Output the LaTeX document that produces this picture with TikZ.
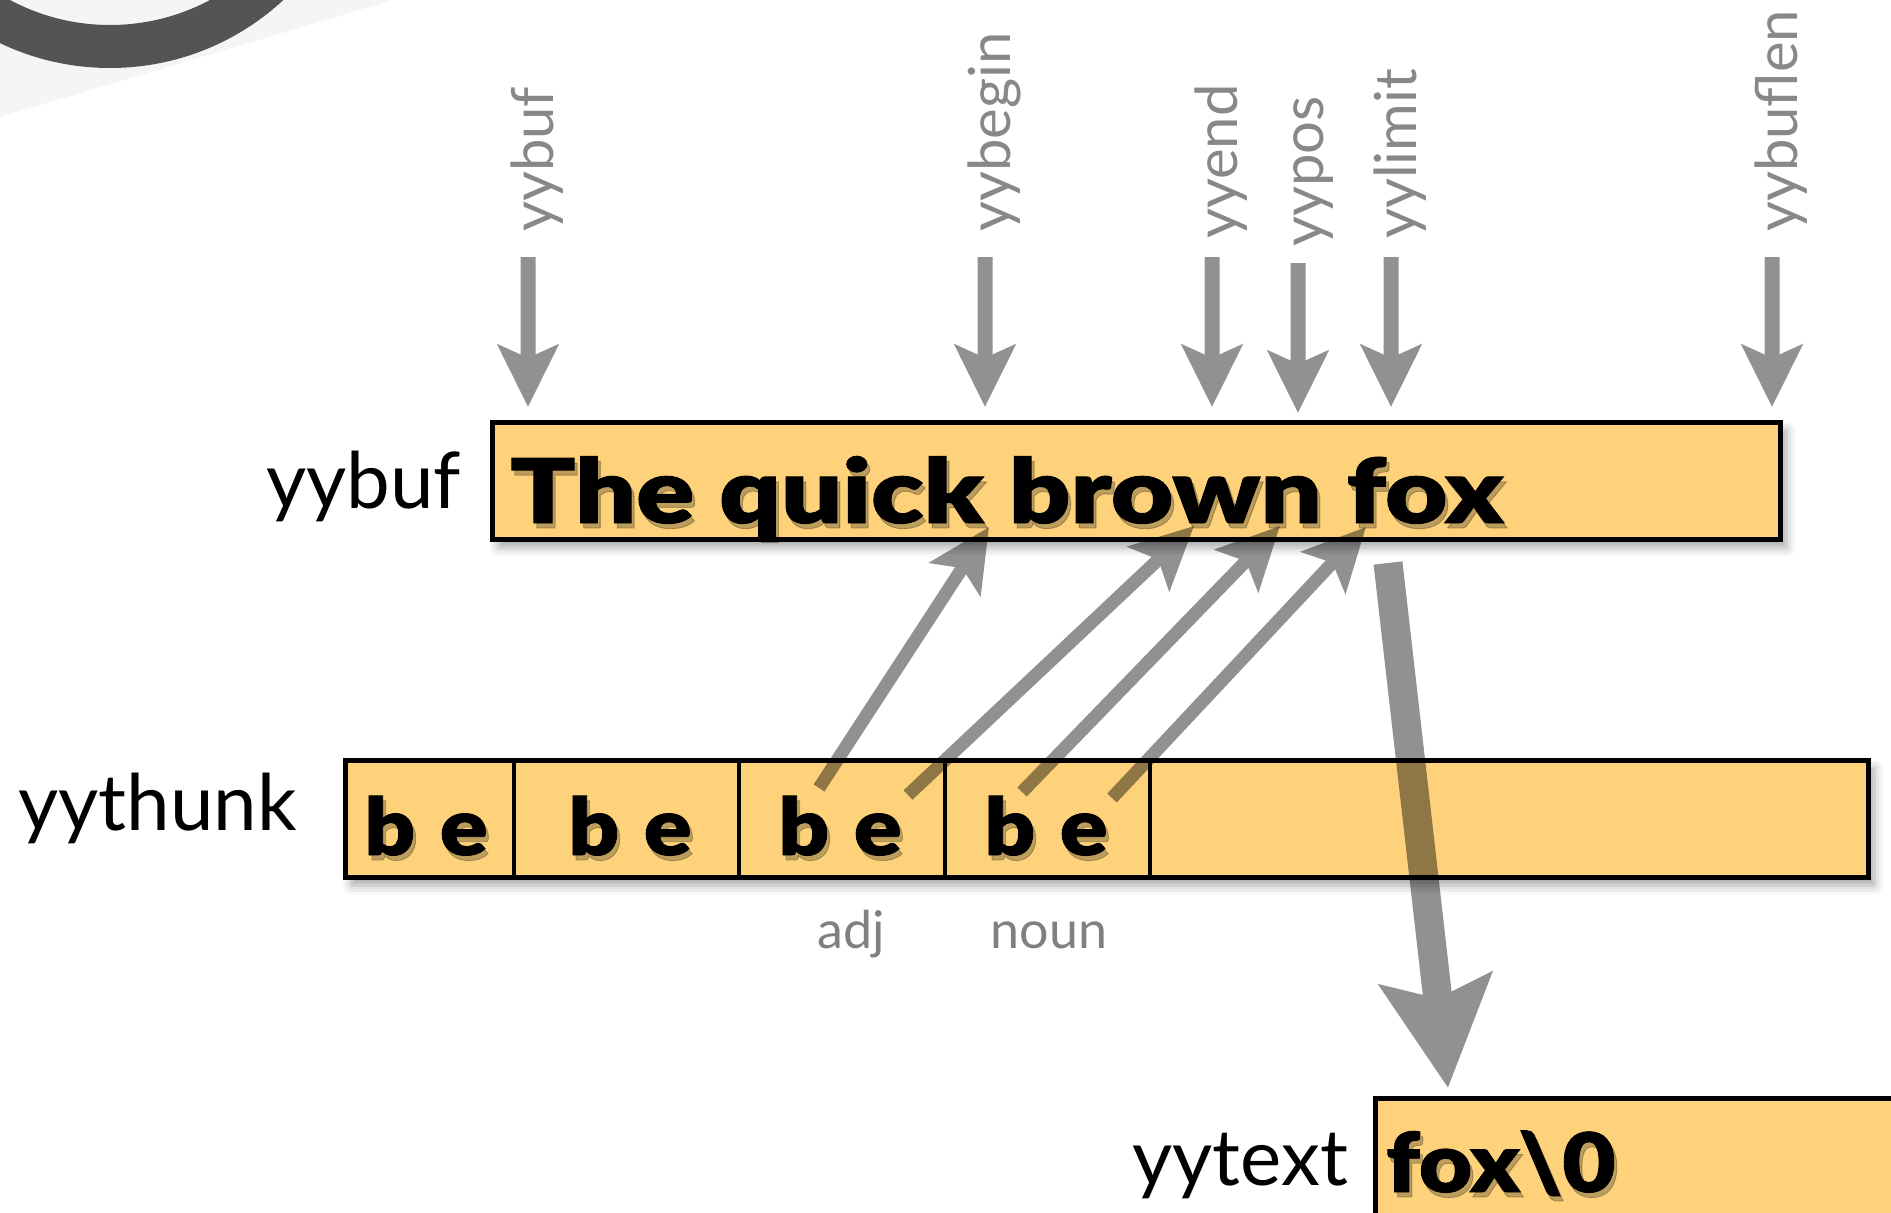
\documentclass[tikz,border=0pt]{standalone}
\usepackage{fontspec}
\usepackage{graphicx}
\usetikzlibrary{arrows.meta,shadows.blur}
\setmainfont{Lato}
\IfFontExistsTF{Lato Black}
  {\newfontfamily\heavyfont{Lato Black}[FakeBold=1]}
  {\newfontfamily\heavyfont{Lato}[FakeBold=3]}

\definecolor{boxfill}{RGB}{253,210,122}
\definecolor{labelgray}{RGB}{136,136,136}
\definecolor{notegray}{RGB}{128,128,128}
\definecolor{ringgray}{RGB}{84,84,84}
\definecolor{cornerwash}{RGB}{245,245,243}

% heavy display text, widened
\newcommand\wide[2][1.12]{\scalebox{#1}[1]{#2}}
% heavy text with a soft drop shade: name, x, y, anchor, content
\newcommand\heavyat[5]{%
  \node[heavyshade, anchor=#4] (#1shade) at (#2+3, #3+5) {#5};
  \node[heavytext, anchor=#4] (#1) at (#2, #3) {#5};}

\tikzset{
  membox/.style={draw=black, line width=5pt, fill=boxfill, inner sep=0pt,
    blur shadow={shadow xshift=6pt, shadow yshift=-8pt,
      shadow blur radius=9pt, shadow opacity=35}},
  namelabel/.style={inner sep=0pt, anchor=base west,
    font=\fontsize{78}{90}\selectfont, text=black},
  ptrlabel/.style={inner sep=0pt, rotate=90, anchor=base west,
    font=\fontsize{58}{66}\selectfont, text=labelgray},
  notelabel/.style={inner sep=0pt, anchor=base,
    font=\fontsize{52}{60}\selectfont, text=notegray},
  heavytext/.style={inner sep=0pt, text=black},
  heavyshade/.style={inner sep=0pt, text=black, text opacity=0.25},
  ptr/.style={line width=15pt, -{Stealth[length=62pt, width=60pt, inset=13pt]}},
  link/.style={line width=13pt, -{Stealth[length=62pt, width=60pt, inset=13pt]}},
  copyarrow/.style={line width=29pt, -{Stealth[length=109pt, width=111pt, inset=19pt]}},
  divider/.style={line width=4.5pt},
}

\begin{document}
\begin{tikzpicture}[x=1pt, y=-1pt]
\useasboundingbox (0,0) rectangle (1891,1213);

% corner ornament
\fill[cornerwash] (0,0) -- (393,0) -- (0,117) -- cycle;
\fill[ringgray, even odd rule] (110,-187) circle[radius=255] (110,-187) circle[radius=212];

% buffers
\node[membox, minimum width=1288pt, minimum height=117pt] (buf) at (1136.5,481) {};
\node[membox, minimum width=1523pt, minimum height=117pt] (thunk) at (1107,819) {};
\node[membox, minimum width=555pt, minimum height=142pt] (text) at (1653,1169.5) {};

% thunk cell dividers
\coordinate (d1) at (514,0);
\coordinate (d2) at (739,0);
\coordinate (d3) at (945,0);
\coordinate (d4) at (1150,0);
\foreach \d in {d1,d2,d3,d4}
  \draw[divider] (thunk.north -| \d) -- (thunk.south -| \d);

% names of the buffers
\node[namelabel] (lbuf) at (266,508) {yybuf};
\node[namelabel] (lthunk) at (18,830) {yythunk};
\node[namelabel] (ltext) at (1132,1185) {yytext};

% buffer contents
\heavyat{content}{510}{523}{base west}{\heavyfont\fontsize{89}{100}\selectfont\wide[1.21]{The quick brown fox}}
\heavyat{yytextval}{1386}{1192}{base west}{\heavyfont\fontsize{82}{95}\selectfont\wide{fox\textbackslash0}}
\heavyat{cella}{426}{855}{base}{\heavyfont\fontsize{79}{90}\selectfont\wide{b\hspace{0.28em}e}}
\heavyat{cellb}{630}{855}{base}{\heavyfont\fontsize{79}{90}\selectfont\wide{b\hspace{0.28em}e}}
\heavyat{cellc}{840}{855}{base}{\heavyfont\fontsize{79}{90}\selectfont\wide{b\hspace{0.28em}e}}
\heavyat{celld}{1046}{855}{base}{\heavyfont\fontsize{79}{90}\selectfont\wide{b\hspace{0.28em}e}}

\node[notelabel] (adj) at (851,948) {adj};
\node[notelabel] (noun) at (1049,948) {noun};

% pointer names
\node[ptrlabel] (nbuf) at (553,232) {yybuf};
\node[ptrlabel] (nbegin) at (1010,232) {yybegin};
\node[ptrlabel] (nend) at (1237,239) {yyend};
\node[ptrlabel] (npos) at (1323,247) {yypos};
\node[ptrlabel] (nlimit) at (1416,239) {yylimit};
\node[ptrlabel] (nbuflen) at (1797,232) {yybuflen};

% arrow end points
\coordinate (pbufA) at (528,257);    \coordinate (pbufB) at (528,407);
\coordinate (pbeginA) at (985,257);  \coordinate (pbeginB) at (985,407);
\coordinate (pendA) at (1212,257);   \coordinate (pendB) at (1212,407);
\coordinate (pposA) at (1298,263);   \coordinate (pposB) at (1298,413);
\coordinate (plimitA) at (1391,257); \coordinate (plimitB) at (1391,407);
\coordinate (plenA) at (1772,257);   \coordinate (plenB) at (1772,407);

\coordinate (adjb) at (819,788);   \coordinate (adjbT) at (989,527);
\coordinate (adje) at (908,795);   \coordinate (adjeT) at (1194,526);
\coordinate (nounb) at (1022,792); \coordinate (nounbT) at (1280,526);
\coordinate (noune) at (1112,798); \coordinate (nouneT) at (1366,527);

\coordinate (copyA) at (1388,563); \coordinate (copyB) at (1448,1088);

\begin{scope}[transparency group, opacity=0.43]
  \draw[ptr] (pbufA) -- (pbufB);
  \draw[ptr] (pbeginA) -- (pbeginB);
  \draw[ptr] (pendA) -- (pendB);
  \draw[ptr] (pposA) -- (pposB);
  \draw[ptr] (plimitA) -- (plimitB);
  \draw[ptr] (plenA) -- (plenB);
  \draw[link] (adjb) -- (adjbT);
  \draw[link] (adje) -- (adjeT);
  \draw[link] (nounb) -- (nounbT);
  \draw[link] (noune) -- (nouneT);
  \draw[copyarrow] (copyA) -- (copyB);
\end{scope}
\end{tikzpicture}
\end{document}
